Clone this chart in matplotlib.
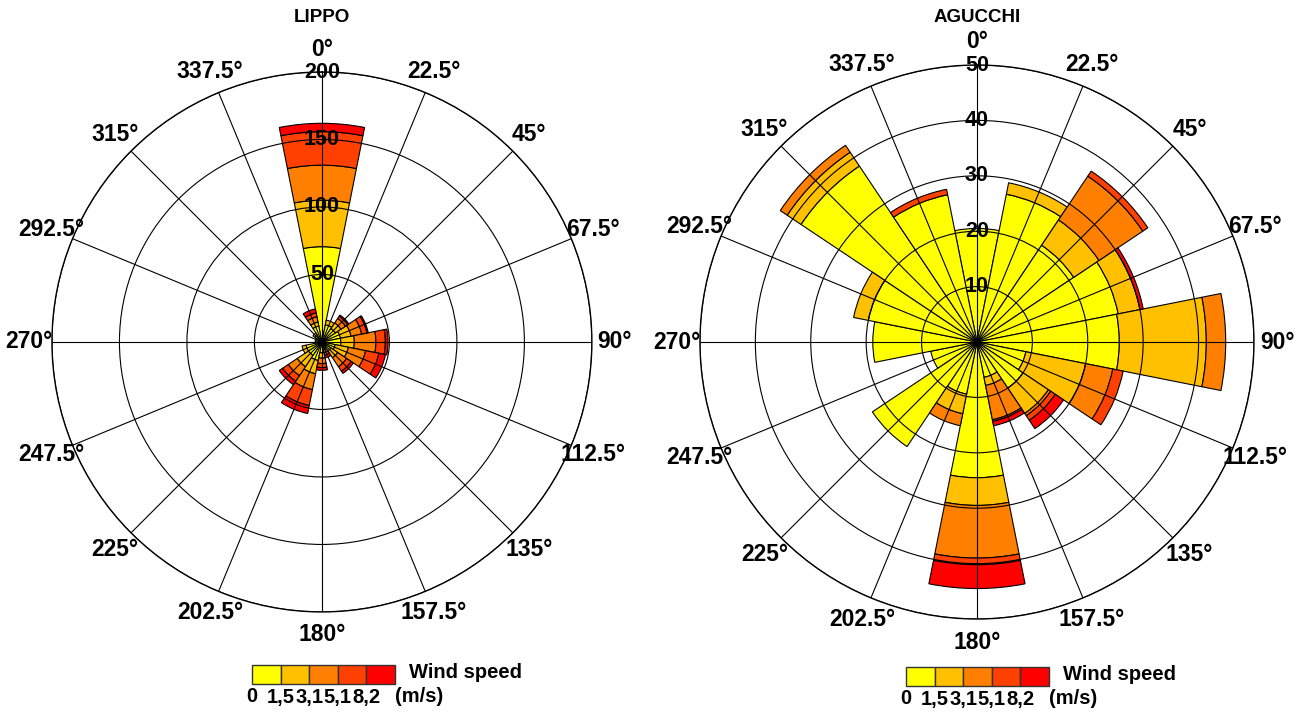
import numpy as np
import matplotlib
matplotlib.use("Agg")
import matplotlib.pyplot as plt
from matplotlib.patches import Rectangle

plt.rcParams['font.family'] = ['Liberation Sans', 'DejaVu Sans']

# ---------------- data ----------------
directions = np.arange(0, 360, 22.5)
dir_labels = ['0°', '22.5°', '45°', '67.5°', '90°', '112.5°', '135°', '157.5°',
              '180°', '202.5°', '225°', '247.5°', '270°', '292.5°', '315°', '337.5°']
speed_edges = ['0', '1,5', '3,1', '5,1', '8,2']
speed_colors = ['#FFFF00', '#FFC000', '#FF8000', '#FF4000', '#FF0000']

# cumulative frequency up to the end of each speed class (one value per direction)
lippo_c1 = [70.6, 13, 12, 14, 14, 10, 8, 4, 8, 14, 12, 12, 5, 5, 6, 12]
lippo_c2 = [105, 16.5, 17, 22, 24, 20, 14, 6, 12, 24, 22, 15, 5, 5, 8, 15]
lippo_c3 = [131, 16.5, 21, 30, 40, 33, 22, 8, 16, 36, 30, 15, 5, 5, 8, 19]
lippo_c4 = [155.8, 16.5, 23, 34, 47, 43, 26, 10, 19, 48, 35, 15, 5, 5, 8, 22]
lippo_c5 = [162, 16.5, 24, 35, 49, 48, 28, 12, 21, 54, 38, 15, 5, 5, 8, 25]

agu_c1 = [20.5, 27.2, 21, 26, 25.7, 9, 10, 6.5, 24.5, 9.6, 22.7, 8.5, 18.8, 20, 38.2, 27.1]
agu_c2 = [20.5, 29.3, 26.5, 30, 41.4, 20, 15.5, 8, 29.5, 13.2, 22.7, 8.5, 18.8, 22.7, 41.2, 27.1]
agu_c3 = [20.5, 29.3, 36, 30, 44.9, 25, 16, 14.3, 39, 15.4, 22.7, 8.5, 18.8, 22.7, 42.7, 27.1]
agu_c4 = [20.5, 29.3, 37.1, 30, 44.9, 26.9, 17, 14.6, 40.2, 15.4, 22.7, 8.5, 18.8, 22.7, 42.7, 28.1]
agu_c5 = [20.5, 29.3, 37.1, 30.6, 44.9, 26.9, 18.8, 15.4, 44.5, 15.4, 22.7, 8.5, 18.8, 22.7, 42.7, 28.1]

stations = [
    dict(name='LIPPO', cum=[lippo_c1, lippo_c2, lippo_c3, lippo_c4, lippo_c5],
         rings=[50, 100, 150, 200], rmax=200,
         rect=[0.0399, 0.1405, 0.4147, 0.7584],
         legend_x=252, legend_y=665),
    dict(name='AGUCCHI', cum=[agu_c1, agu_c2, agu_c3, agu_c4, agu_c5],
         rings=[10, 20, 30, 40, 50], rmax=50,
         rect=[0.5376, 0.1306, 0.4255, 0.7781],
         legend_x=906, legend_y=667),
]

W, H = 1302, 712
fig = plt.figure(figsize=(W / 100, H / 100), dpi=100)

theta = np.deg2rad(directions)
width = np.deg2rad(22.5)

for st in stations:
    ax = fig.add_axes(st['rect'], projection='polar')
    ax.set_theta_zero_location('N')
    ax.set_theta_direction(-1)
    rmax = st['rmax']
    ax.set_ylim(0, rmax)
    prev = np.zeros(len(directions))
    for k in range(5):
        cur = np.array(st['cum'][k], dtype=float)
        h = cur - prev
        m = h > 0
        ax.bar(theta[m], h[m], width=width, bottom=prev[m], color=speed_colors[k],
               edgecolor='black', linewidth=0.8, zorder=1)
        prev = cur
    ax.set_xticks(theta)
    ax.set_xticklabels([])
    ax.set_yticks(st['rings'])
    ax.set_yticklabels([])
    ax.grid(True, color='black', linewidth=0.8)
    ax.set_axisbelow(False)
    ax.spines['polar'].set_color('black')
    ax.spines['polar'].set_linewidth(1.0)
    ax.plot([0], [0], 'o', color='black', ms=5, zorder=4)
    # radial labels along north axis
    for r in st['rings']:
        ax.text(0, r, str(r), ha='center', va='center', fontsize=15.5,
                fontweight='bold', zorder=6)
    # direction labels
    for t, lab in zip(theta, dir_labels):
        ax.text(t, rmax * 1.085, lab, ha='center', va='center', fontsize=16.5,
                fontweight='bold', clip_on=False)
    # title
    cx = (st['rect'][0] + st['rect'][2] / 2)
    fig.text(cx, 1 - 18 / H, st['name'], ha='center', va='center',
             fontsize=13.5, fontweight='bold')
    # legend
    lx, ly = st['legend_x'], st['legend_y']
    bw, bh = 28.6, 18.5
    for k in range(5):
        fig.add_artist(Rectangle(((lx + k * bw) / W, 1 - (ly + bh) / H), bw / W, bh / H,
                                 transform=fig.transFigure, facecolor=speed_colors[k],
                                 edgecolor='#333333', linewidth=1.0))
    fig.text((lx + 5 * bw + 14) / W, 1 - (ly + 8) / H, 'Wind speed', ha='left',
             va='center', fontsize=14.5, fontweight='bold')
    for k, lab in enumerate(speed_edges):
        fig.text((lx + k * bw) / W, 1 - (ly + 32) / H, lab, ha='center', va='center',
                 fontsize=14.5, fontweight='bold')
    fig.text((lx + 5 * bw) / W, 1 - (ly + 32) / H, '(m/s)', ha='left', va='center',
             fontsize=14.5, fontweight='bold')

fig.savefig('out.png', dpi=100, facecolor='white')
